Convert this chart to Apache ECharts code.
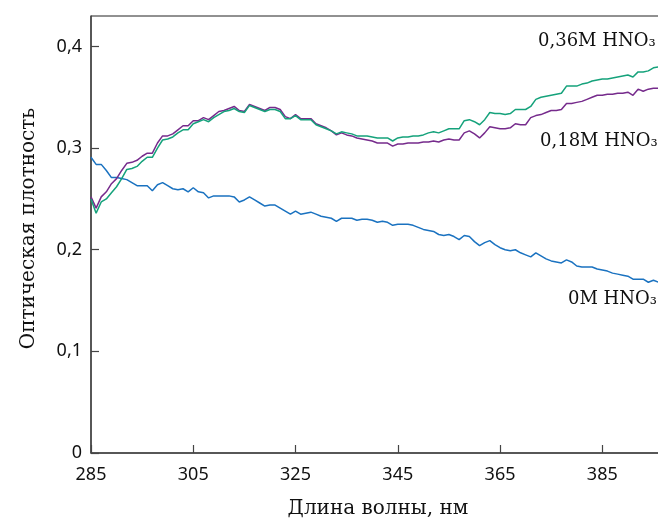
<!DOCTYPE html>
<html>
<head>
<meta charset="utf-8">
<script src="https://cdn.jsdelivr.net/npm/echarts@6/dist/echarts.min.js"></script>
<style>
  html, body { margin: 0; padding: 0; background: #fff; }
  #chart { width: 658px; height: 518px; }
</style>
</head>
<body>
<div id="chart"></div>
<script>
// Absorption spectra of the solutions, 285–396 nm in 1 nm steps
const wavelengthStart = 285;
const wavelengthEnd = 396;

const xTicks = [285, 305, 325, 345, 365, 385];
const yTicks = [0, 0.1, 0.2, 0.3, 0.4];

const seriesNames = ['0M HNO₃', '0,18M HNO₃', '0,36M HNO₃'];

// 0 M HNO3
const absorb0M = [
  0.291, 0.284, 0.284, 0.278, 0.271, 0.271, 0.270, 0.269, 0.266, 0.263,
  0.263, 0.263, 0.258, 0.264, 0.266, 0.263, 0.260, 0.259, 0.260, 0.257,
  0.261, 0.257, 0.256, 0.251, 0.253, 0.253, 0.253, 0.253, 0.252, 0.247,
  0.249, 0.252, 0.249, 0.246, 0.243, 0.244, 0.244, 0.241, 0.238, 0.235,
  0.238, 0.235, 0.236, 0.237, 0.235, 0.233, 0.232, 0.231, 0.228, 0.231,
  0.231, 0.231, 0.229, 0.230, 0.230, 0.229, 0.227, 0.228, 0.227, 0.224,
  0.225, 0.225, 0.225, 0.224, 0.222, 0.220, 0.219, 0.218, 0.215, 0.214,
  0.215, 0.213, 0.210, 0.214, 0.213, 0.208, 0.204, 0.207, 0.209, 0.205,
  0.202, 0.200, 0.199, 0.200, 0.197, 0.195, 0.193, 0.197, 0.194, 0.191,
  0.189, 0.188, 0.187, 0.190, 0.188, 0.184, 0.183, 0.183, 0.183, 0.181,
  0.180, 0.179, 0.177, 0.176, 0.175, 0.174, 0.171, 0.171, 0.171, 0.168,
  0.170, 0.168
];

// 0.18 M HNO3
const absorb018M = [
  0.252, 0.241, 0.252, 0.257, 0.265, 0.270, 0.278, 0.285, 0.286, 0.288,
  0.292, 0.295, 0.295, 0.305, 0.312, 0.312, 0.314, 0.318, 0.322, 0.322,
  0.327, 0.327, 0.330, 0.328, 0.332, 0.336, 0.337, 0.339, 0.341, 0.337,
  0.336, 0.343, 0.341, 0.339, 0.337, 0.340, 0.340, 0.338, 0.331, 0.329,
  0.333, 0.329, 0.329, 0.329, 0.324, 0.322, 0.320, 0.317, 0.313, 0.315,
  0.313, 0.312, 0.310, 0.309, 0.308, 0.307, 0.305, 0.305, 0.305, 0.302,
  0.304, 0.304, 0.305, 0.305, 0.305, 0.306, 0.306, 0.307, 0.306, 0.308,
  0.309, 0.308, 0.308, 0.315, 0.317, 0.314, 0.310, 0.315, 0.321, 0.320,
  0.319, 0.319, 0.320, 0.324, 0.323, 0.323, 0.330, 0.332, 0.333, 0.335,
  0.337, 0.337, 0.338, 0.344, 0.344, 0.345, 0.346, 0.348, 0.350, 0.352,
  0.352, 0.353, 0.353, 0.354, 0.354, 0.355, 0.352, 0.358, 0.356, 0.358,
  0.359, 0.359
];

// 0.36 M HNO3
const absorb036M = [
  0.250, 0.236, 0.247, 0.250, 0.256, 0.262, 0.270, 0.279, 0.280, 0.282,
  0.287, 0.291, 0.291, 0.300, 0.308, 0.309, 0.311, 0.315, 0.318, 0.318,
  0.324, 0.326, 0.328, 0.326, 0.330, 0.333, 0.336, 0.337, 0.339, 0.336,
  0.335, 0.342, 0.340, 0.338, 0.336, 0.338, 0.338, 0.336, 0.329, 0.329,
  0.332, 0.328, 0.328, 0.328, 0.323, 0.321, 0.319, 0.317, 0.314, 0.316,
  0.315, 0.314, 0.312, 0.312, 0.312, 0.311, 0.310, 0.310, 0.310, 0.307,
  0.310, 0.311, 0.311, 0.312, 0.312, 0.313, 0.315, 0.316, 0.315, 0.317,
  0.319, 0.319, 0.319, 0.327, 0.328, 0.326, 0.323, 0.328, 0.335, 0.334,
  0.334, 0.333, 0.334, 0.338, 0.338, 0.338, 0.341, 0.348, 0.350, 0.351,
  0.352, 0.353, 0.354, 0.361, 0.361, 0.361, 0.363, 0.364, 0.366, 0.367,
  0.368, 0.368, 0.369, 0.370, 0.371, 0.372, 0.370, 0.375, 0.375, 0.376,
  0.379, 0.380
];

const wavelengths = [];
for (let w = wavelengthStart; w <= wavelengthEnd; w++) wavelengths.push(w);

const pairs = (vals) => vals.map((v, i) => [wavelengths[i], v]);
const decimalComma = (v) => (v === 0 ? '0' : v.toFixed(1).replace('.', ','));

const serif = '"DejaVu Serif", serif';
const sans = '"Noto Sans", sans-serif';

const chart = echarts.init(document.getElementById('chart'), null, { renderer: 'canvas' });

chart.setOption({
  animation: false,
  backgroundColor: '#ffffff',
  grid: {
    left: 91,
    top: 16,
    right: -21,
    bottom: 65,
    outerBoundsMode: 'none',
    containLabel: false,
    show: true,
    borderColor: '#222',
    borderWidth: 1,
    backgroundColor: 'transparent'
  },
  xAxis: {
    type: 'value',
    min: 285,
    max: 400,
    interval: 20,
    name: 'Длина волны, нм',
    nameLocation: 'middle',
    nameGap: 46,
    nameTextStyle: { fontFamily: serif, fontSize: 20, color: '#111', padding: [0, 14, 0, 0] },
    axisLine: { show: true, lineStyle: { color: '#444', width: 1.5 } },
    axisTick: { show: true, inside: true, length: 8, lineStyle: { color: '#444', width: 1.2 } },
    axisLabel: {
      margin: 13,
      fontFamily: sans,
      fontSize: 18,
      color: '#111',
      formatter: (v) => (xTicks.includes(v) ? String(v) : '')
    },
    splitLine: { show: false }
  },
  yAxis: {
    type: 'value',
    min: 0,
    max: 0.43,
    interval: 0.1,
    name: 'Оптическая плотность',
    nameLocation: 'middle',
    nameGap: 52,
    nameTextStyle: { fontFamily: serif, fontSize: 20, color: '#111', padding: [0, 0, 0, 12] },
    axisLine: { show: true, lineStyle: { color: '#444', width: 1.5 } },
    axisTick: { show: true, inside: true, length: 8, lineStyle: { color: '#444', width: 1.2 } },
    axisLabel: {
      margin: 9,
      fontFamily: sans,
      fontSize: 18,
      color: '#111',
      showMaxLabel: false,
      formatter: (v) => {
        const t = yTicks.find((y) => Math.abs(y - v) < 1e-9);
        return t === undefined ? '' : decimalComma(t);
      }
    },
    splitLine: { show: false }
  },
  graphic: [
    { type: 'text', left: 538, top: 32, silent: true,
      style: { text: seriesNames[2], font: '18px ' + serif, fill: '#111' } },
    { type: 'text', left: 540, top: 132, silent: true,
      style: { text: seriesNames[1], font: '18px ' + serif, fill: '#111' } },
    { type: 'text', left: 568, top: 290, silent: true,
      style: { text: seriesNames[0], font: '18px ' + serif, fill: '#111' } }
  ],
  series: [
    {
      name: seriesNames[0], type: 'line', data: pairs(absorb0M),
      showSymbol: false, symbol: 'none',
      lineStyle: { color: '#1a72c0', width: 1.5 }, z: 3
    },
    {
      name: seriesNames[1], type: 'line', data: pairs(absorb018M),
      showSymbol: false, symbol: 'none',
      lineStyle: { color: '#762b8c', width: 1.5 }, z: 3
    },
    {
      name: seriesNames[2], type: 'line', data: pairs(absorb036M),
      showSymbol: false, symbol: 'none',
      lineStyle: { color: '#15a27b', width: 1.5 }, z: 4
    }
  ]
});
</script>
</body>
</html>
